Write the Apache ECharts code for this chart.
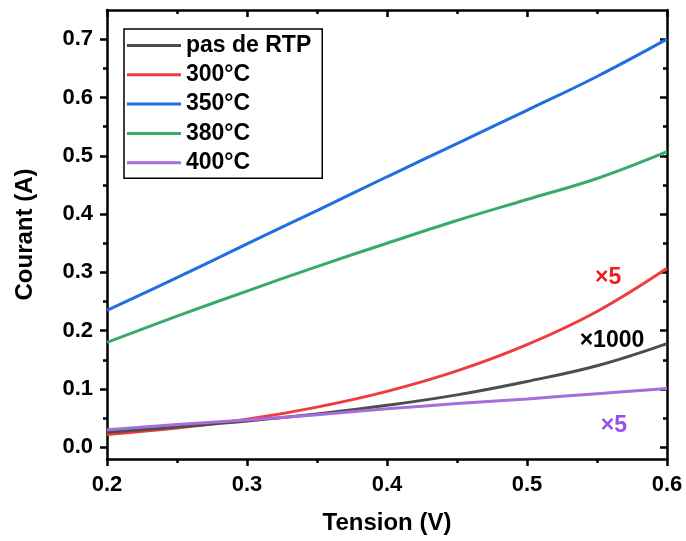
<!DOCTYPE html>
<html><head><meta charset="utf-8">
<script src="https://cdn.jsdelivr.net/npm/echarts@6/dist/echarts.min.js"></script>
<style>html,body{margin:0;padding:0;background:#fff}#c{width:686px;height:541px}</style>
</head><body><div id="c"></div>
<script>
const voltage = [0.2, 0.25, 0.3, 0.35, 0.4, 0.45, 0.5, 0.55, 0.6];
const seriesNames = ['pas de RTP', '300°C', '350°C', '380°C', '400°C'];
const pasDeRTP = [0.026, 0.035, 0.045, 0.057, 0.072, 0.090, 0.113, 0.140, 0.178];
const t300 = [0.022, 0.033, 0.048, 0.069, 0.096, 0.131, 0.176, 0.233, 0.307];
const t350 = [0.235, 0.291, 0.349, 0.406, 0.464, 0.521, 0.578, 0.636, 0.700];
const t380 = [0.180, 0.225, 0.268, 0.310, 0.350, 0.389, 0.425, 0.461, 0.507];
const t400 = [0.030, 0.039, 0.047, 0.056, 0.066, 0.075, 0.083, 0.092, 0.101];
const yMajor = [0, 0.1, 0.2, 0.3, 0.4, 0.5, 0.6, 0.7];
const yMinor = [0.05, 0.15, 0.25, 0.35, 0.45, 0.55, 0.65];
const notes = [
  {series: 1, text: '×5', at: [0.5579, 0.2916]},
  {series: 0, text: '×1000', at: [0.5607, 0.1835]},
  {series: 4, text: '×5', at: [0.5621, 0.0377]}
];
const colors = ['#4d4d4d', '#f03c3c', '#1f6fe0', '#3aaa6a', '#a66ce0'];
const noteColors = ['#000', '#f01e1e', '#1f6fe0', '#3aaa6a', '#9b4de8'];
const allData = [pasDeRTP, t300, t350, t380, t400];

const FONT = 'Liberation Sans';
const axisLine = {show: true, onZero: false, lineStyle: {color: '#000', width: 2.5}};
const series = allData.map((arr, i) => {
  const s = {
    name: seriesNames[i], type: 'line', smooth: 0.4, showSymbol: false,
    data: voltage.map((v, k) => [v, arr[k]]),
    lineStyle: {color: colors[i], width: 3}, itemStyle: {color: colors[i]},
    z: 3
  };
  const n = notes.filter(o => o.series === i);
  if (n.length) {
    s.markPoint = {
      symbol: 'circle', symbolSize: 1, itemStyle: {color: 'rgba(0,0,0,0)'},
      label: {show: true, position: 'inside', fontFamily: FONT, fontWeight: 'bold', fontSize: 23,
              color: noteColors[i]},
      data: n.map(o => ({coord: o.at, value: o.text, label: {formatter: o.text}}))
    };
  }
  return s;
});
const chart = echarts.init(document.getElementById('c'), null, {renderer: 'canvas'});
chart.setOption({
  animation: false,
  backgroundColor: '#fff',
  grid: {left: 107, top: 10, right: 19, bottom: 82, containLabel: false},
  legend: {
    orient: 'vertical', left: 124, top: 29, data: seriesNames,
    icon: 'rect', itemWidth: 54, itemHeight: 3, itemGap: 6.3,
    padding: [5, 11, 4, 3], borderColor: '#000', borderWidth: 1.5,
    textStyle: {fontFamily: FONT, fontWeight: 'bold', fontSize: 23, color: '#000', lineHeight: 23}
  },
  xAxis: [
    {type: 'value', min: 0.2, max: 0.6, interval: 0.1, position: 'bottom',
     name: 'Tension (V)', nameLocation: 'middle', nameGap: 52,
     nameTextStyle: {fontFamily: FONT, fontWeight: 'bold', fontSize: 24, color: '#000'},
     axisLine: axisLine, splitLine: {show: false},
     axisTick: {show: true, inside: false, length: 7, lineStyle: {color: '#000', width: 2.5}},
     minorTick: {show: true, splitNumber: 2, length: 4, lineStyle: {color: '#000', width: 2.5}},
     axisLabel: {fontFamily: FONT, fontWeight: 'bold', fontSize: 22, color: '#000', margin: 15,
                 formatter: v => v.toFixed(1)}},
    {type: 'value', min: 0.2, max: 0.6, interval: 0.1, position: 'top',
     axisLine: axisLine, splitLine: {show: false},
     axisTick: {show: true, inside: true, length: 7, lineStyle: {color: '#000', width: 2.5}},
     minorTick: {show: true, splitNumber: 2, length: 4, lineStyle: {color: '#000', width: 2.5}},
     axisLabel: {show: false}}
  ],
  yAxis: [
    {type: 'value', min: -0.02, max: 0.75, position: 'left',
     name: 'Courant (A)', nameLocation: 'middle', nameGap: 70,
     nameTextStyle: {fontFamily: FONT, fontWeight: 'bold', fontSize: 24, color: '#000'},
     axisLine: axisLine, splitLine: {show: false},
     axisTick: {show: true, inside: false, length: 7, customValues: yMajor, lineStyle: {color: '#000', width: 2.5}},
     axisLabel: {fontFamily: FONT, fontWeight: 'bold', fontSize: 22, color: '#000', margin: 14,
                 customValues: yMajor, formatter: v => v.toFixed(1)}},
    {type: 'value', min: -0.02, max: 0.75, position: 'right',
     axisLine: axisLine, splitLine: {show: false},
     axisTick: {show: true, inside: true, length: 7, customValues: yMajor, lineStyle: {color: '#000', width: 2.5}},
     axisLabel: {show: false}},
    {type: 'value', min: -0.02, max: 0.75, position: 'left',
     axisLine: {show: false}, splitLine: {show: false},
     axisTick: {show: true, inside: false, length: 4, customValues: yMinor, lineStyle: {color: '#000', width: 2.5}},
     axisLabel: {show: false, customValues: yMinor}},
    {type: 'value', min: -0.02, max: 0.75, position: 'right',
     axisLine: {show: false}, splitLine: {show: false},
     axisTick: {show: true, inside: true, length: 4, customValues: yMinor, lineStyle: {color: '#000', width: 2.5}},
     axisLabel: {show: false, customValues: yMinor}}
  ],
  series: [series[2], series[3], series[1], series[0], series[4]]
});
</script></body></html>
